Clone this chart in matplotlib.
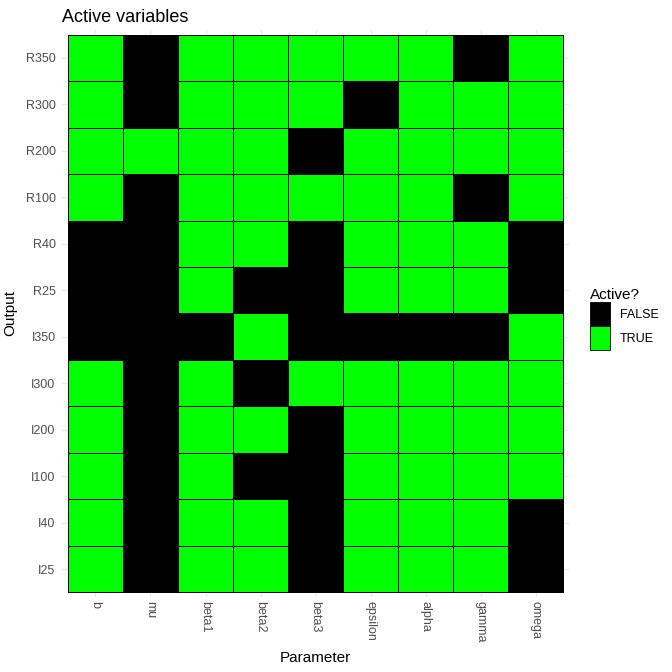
import matplotlib.pyplot as plt
import numpy as np
from matplotlib.colors import ListedColormap
from matplotlib.patches import Patch

plt.rcParams['font.family'] = ['Liberation Sans', 'DejaVu Sans']

# Parameters (x) and outputs (y, top to bottom as shown)
parameters = ['b', 'mu', 'beta1', 'beta2', 'beta3', 'epsilon', 'alpha', 'gamma', 'omega']
outputs_top_down = ['R350', 'R300', 'R200', 'R100', 'R40', 'R25',
                    'I350', 'I300', 'I200', 'I100', 'I40', 'I25']

# Active flags, rows in same order as outputs_top_down (1 = TRUE, 0 = FALSE)
active = [
    [1, 0, 1, 1, 1, 1, 1, 0, 1],  # R350
    [1, 0, 1, 1, 1, 0, 1, 1, 1],  # R300
    [1, 1, 1, 1, 0, 1, 1, 1, 1],  # R200
    [1, 0, 1, 1, 1, 1, 1, 0, 1],  # R100
    [0, 0, 1, 1, 0, 1, 1, 1, 0],  # R40
    [0, 0, 1, 0, 0, 1, 1, 1, 0],  # R25
    [0, 0, 0, 1, 0, 0, 0, 0, 1],  # I350
    [1, 0, 1, 0, 1, 1, 1, 1, 1],  # I300
    [1, 0, 1, 1, 0, 1, 1, 1, 1],  # I200
    [1, 0, 1, 0, 0, 1, 1, 1, 1],  # I100
    [1, 0, 1, 1, 0, 1, 1, 1, 0],  # I40
    [1, 0, 1, 1, 0, 1, 1, 1, 0],  # I25
]

fill_false = '#000000'
fill_true = '#00FF00'
text_grey = '#4D4D4D'

fig = plt.figure(figsize=(6.72, 6.72), dpi=100)
ax = fig.add_axes([0.093, 0.1116, 0.753, 0.8438])

# bottom row first so I25 sits at y=0
grid = np.array(active[::-1])
outputs = outputs_top_down[::-1]
nx, ny = len(parameters), len(outputs)

ax.pcolormesh(np.arange(nx + 1) - 0.5, np.arange(ny + 1) - 0.5, grid,
              cmap=ListedColormap([fill_false, fill_true]), vmin=0, vmax=1,
              edgecolors='black', linewidth=0.4, zorder=2)

ax.set_xlim(-0.6, nx - 0.4)
ax.set_ylim(-0.6, ny - 0.4)
ax.set_xticks(range(nx))
ax.set_xticklabels(parameters, rotation=270, fontsize=9, color=text_grey)
ax.set_yticks(range(ny))
ax.set_yticklabels(outputs, fontsize=9, color=text_grey)
ax.tick_params(axis='x', length=0, pad=3)
ax.tick_params(axis='y', length=0, pad=5)
ax.grid(True, color='#EBEBEB', linewidth=1, zorder=0)
ax.set_axisbelow(True)
for s in ax.spines.values():
    s.set_visible(False)

ax.set_xlabel('Parameter', fontsize=11, labelpad=6)
ax.set_ylabel('Output', fontsize=11, labelpad=6)
fig.text(0.092, 0.962, 'Active variables', fontsize=13, ha='left', va='bottom')

handles = [Patch(facecolor=fill_false, edgecolor='black', linewidth=0.6, label='FALSE'),
           Patch(facecolor=fill_true, edgecolor='black', linewidth=0.6, label='TRUE')]
leg = ax.legend(handles=handles, title='Active?', loc='center left',
                bbox_to_anchor=(1.02, 0.49), frameon=False, fontsize=9,
                title_fontsize=11, handlelength=1.6, handleheight=2.55,
                handletextpad=0.8, labelspacing=0.0, borderaxespad=0.5)
leg._legend_box.align = 'left'

fig.savefig('out.png', dpi=100)
